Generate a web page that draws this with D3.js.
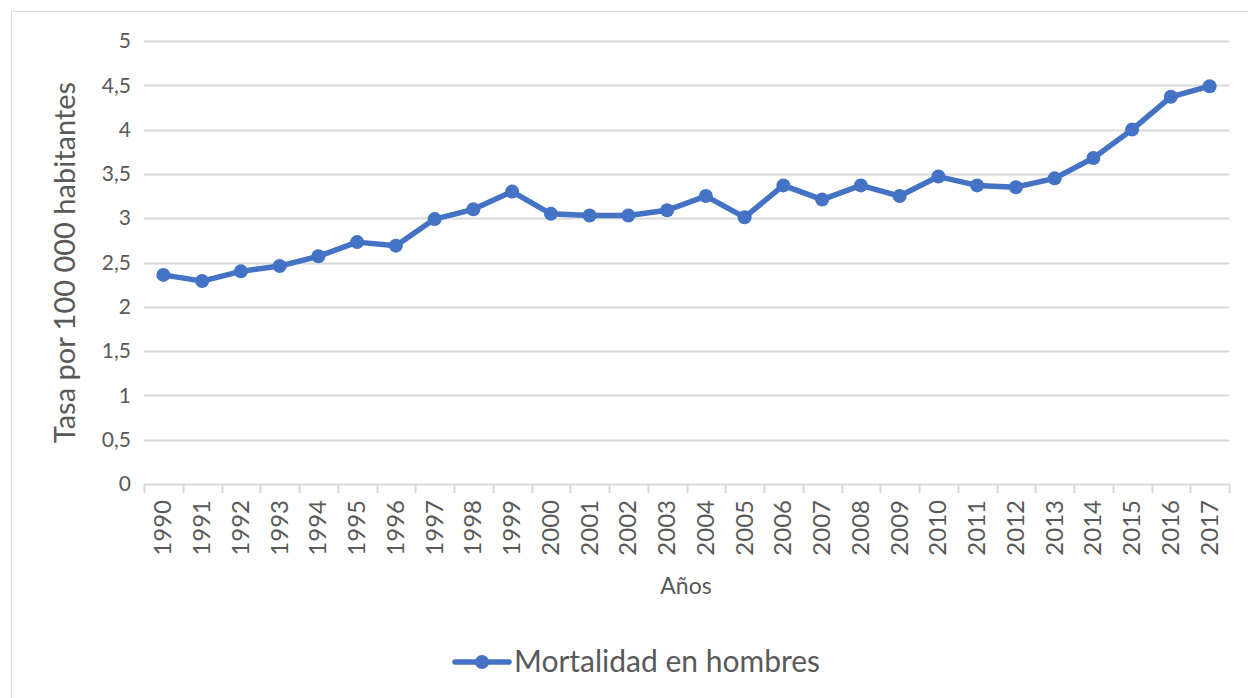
<!DOCTYPE html>
<html>
<head>
<meta charset="utf-8">
<script src="https://cdn.jsdelivr.net/npm/d3@7"></script>
<style>
  body { margin: 0; background: #fff; }
  svg { display: block; }
  text { font-family: Lato, "Liberation Sans", sans-serif; fill: #595959; }
</style>
</head>
<body>
<div id="chart"></div>
<script>
// data
var years = [1990, 1991, 1992, 1993, 1994, 1995, 1996, 1997, 1998, 1999,
             2000, 2001, 2002, 2003, 2004, 2005, 2006, 2007, 2008, 2009,
             2010, 2011, 2012, 2013, 2014, 2015, 2016, 2017];
var mortalidad = [2.36, 2.29, 2.40, 2.46, 2.57, 2.73, 2.69, 2.99, 3.10, 3.30,
                  3.05, 3.03, 3.03, 3.09, 3.25, 3.01, 3.37, 3.21, 3.37, 3.25,
                  3.47, 3.37, 3.35, 3.45, 3.68, 4.00, 4.37, 4.49];
var yTicks = [0, 0.5, 1, 1.5, 2, 2.5, 3, 3.5, 4, 4.5, 5];
var seriesName = "Mortalidad en hombres";

var w = 1248, h = 698;
var pLeft = 144, pRight = 1229, pTop = 41, pBottom = 484;
var blue = "#4472C4", grid = "#d9d9d9";

var svg = d3.select("#chart").append("svg")
    .attr("width", w)
    .attr("height", h);

// chart border
svg.append("rect")
    .attr("x", 11.5).attr("y", 11.5)
    .attr("width", w).attr("height", h)
    .attr("fill", "none")
    .attr("stroke", grid);

var x = d3.scaleBand()
    .domain(years)
    .range([pLeft, pRight]);
var y = d3.scaleLinear()
    .domain([0, 5])
    .range([pBottom, pTop]);

var fmt = function(d) { return String(d).replace(".", ","); };

// gridlines
svg.append("g")
    .selectAll("line")
    .data(yTicks.slice(1))
    .enter()
    .append("line")
    .attr("x1", pLeft).attr("x2", pRight)
    .attr("y1", function(d) { return Math.round(y(d)) + 0.5; })
    .attr("y2", function(d) { return Math.round(y(d)) + 0.5; })
    .attr("stroke", grid)
    .attr("stroke-width", 2);

// y axis labels
var yAxis = d3.axisLeft(y).tickValues(yTicks).tickFormat(fmt).tickSize(0).tickPadding(0);
var gy = svg.append("g")
    .attr("transform", "translate(" + (pLeft - 13) + ",0)")
    .call(yAxis);
gy.select(".domain").remove();
gy.selectAll("text")
    .attr("font-size", "21px")
    .attr("fill", "#595959")
    .style("font-family", "Lato, 'Liberation Sans', sans-serif");

// x axis
var gx = svg.append("g")
    .attr("transform", "translate(0," + pBottom + ")");
gx.append("line")
    .attr("x1", pLeft).attr("x2", pRight)
    .attr("y1", 0.5).attr("y2", 0.5)
    .attr("stroke", grid).attr("stroke-width", 2);
gx.selectAll("line.tick")
    .data(years.concat(["end"]))
    .enter()
    .append("line")
    .attr("class", "tick")
    .attr("x1", function(d, i) { return Math.round(pLeft + i * x.step()) + 0.5; })
    .attr("x2", function(d, i) { return Math.round(pLeft + i * x.step()) + 0.5; })
    .attr("y1", 0).attr("y2", 9)
    .attr("stroke", grid).attr("stroke-width", 2);
gx.selectAll("text")
    .data(years)
    .enter()
    .append("text")
    .text(function(d) { return d; })
    .attr("transform", function(d) {
        return "translate(" + (x(d) + x.bandwidth() / 2 + 8) + ",16) rotate(-90)";
    })
    .attr("text-anchor", "end")
    .attr("font-size", "24px");

// axis titles
svg.append("text")
    .text("Años")
    .attr("x", 686)
    .attr("y", 594)
    .attr("text-anchor", "middle")
    .attr("font-size", "23px");
svg.append("text")
    .text("Tasa por 100 000 habitantes")
    .attr("transform", "translate(75," + ((pTop + pBottom) / 2) + ") rotate(-90)")
    .attr("text-anchor", "middle")
    .attr("font-size", "29px");

// line + markers
var line = d3.line()
    .x(function(d, i) { return x(years[i]) + x.bandwidth() / 2; })
    .y(function(d) { return y(d); });
svg.append("path")
    .datum(mortalidad)
    .attr("d", line)
    .attr("fill", "none")
    .attr("stroke", blue)
    .attr("stroke-width", 5.5)
    .attr("stroke-linejoin", "round");
svg.selectAll("circle.pt")
    .data(mortalidad)
    .enter()
    .append("circle")
    .attr("class", "pt")
    .attr("cx", function(d, i) { return x(years[i]) + x.bandwidth() / 2; })
    .attr("cy", function(d) { return y(d); })
    .attr("r", 7)
    .attr("fill", blue);

// legend
var lg = svg.append("g").attr("transform", "translate(455,662)");
lg.append("line")
    .attr("x1", 0).attr("x2", 54)
    .attr("y1", 0).attr("y2", 0)
    .attr("stroke", blue).attr("stroke-width", 5.5)
    .attr("stroke-linecap", "round");
lg.append("circle")
    .attr("cx", 27).attr("cy", 0).attr("r", 7)
    .attr("fill", blue);
lg.append("text")
    .text(seriesName)
    .attr("x", 59).attr("y", 10)
    .attr("font-size", "30px");
</script>
</body>
</html>
